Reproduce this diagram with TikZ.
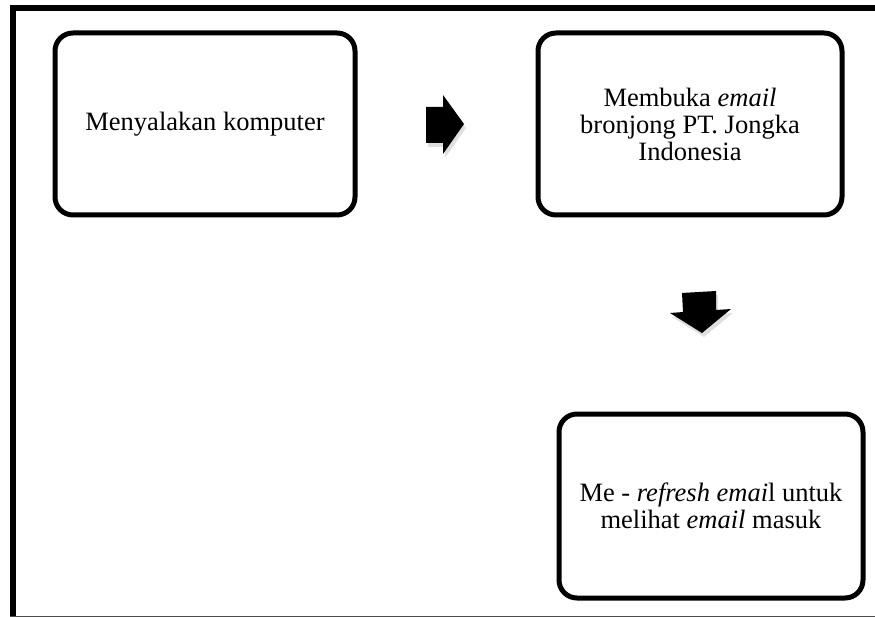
\documentclass[tikz,border=0pt]{standalone}
\usepackage{fontspec}
\setmainfont{Liberation Serif}
\usetikzlibrary{shadows}
\begin{document}
\begin{tikzpicture}[x=1pt,y=-1pt,
  stepbox/.style={draw=black, line width=5pt, rounded corners=18pt, fill=white,
    align=center, inner sep=0pt, font=\fontsize{26.5}{27}\selectfont},
  blockarrow/.style={fill=black, draw=none,
    drop shadow={opacity=0.25, shadow xshift=2pt, shadow yshift=-4pt}}]
  \useasboundingbox (0,0) rectangle (875,617);
  % page frame
  \draw[line width=6.5pt] (13,617) -- (13,8) -- (875,8);
  \draw[line width=1pt, black!70] (10,616.5) -- (875,616.5);
  % process steps
  \node[stepbox, minimum width=300pt, minimum height=182pt] (s1) at (205,124)
    {Menyalakan komputer};
  \node[stepbox, minimum width=304pt, minimum height=182pt] (s2) at (690,124)
    {Membuka \textit{email}\\bronjong PT. Jongka\\Indonesia};
  \node[stepbox, minimum width=304pt, minimum height=184pt] (s3) at (711,506)
    {Me - \textit{refresh emai}l untuk\\melihat \textit{email} masuk};
  % block arrows between steps
  \path[blockarrow] (426,107) -- (443,107) -- (443,95) -- (464,124)
    -- (443,154) -- (443,143) -- (426,143) -- cycle;
  \path[blockarrow] (682,293) -- (716,291) -- (716,310) -- (731,309)
    -- (702,333) -- (670,313) -- (683,312) -- cycle;
\end{tikzpicture}
\end{document}
